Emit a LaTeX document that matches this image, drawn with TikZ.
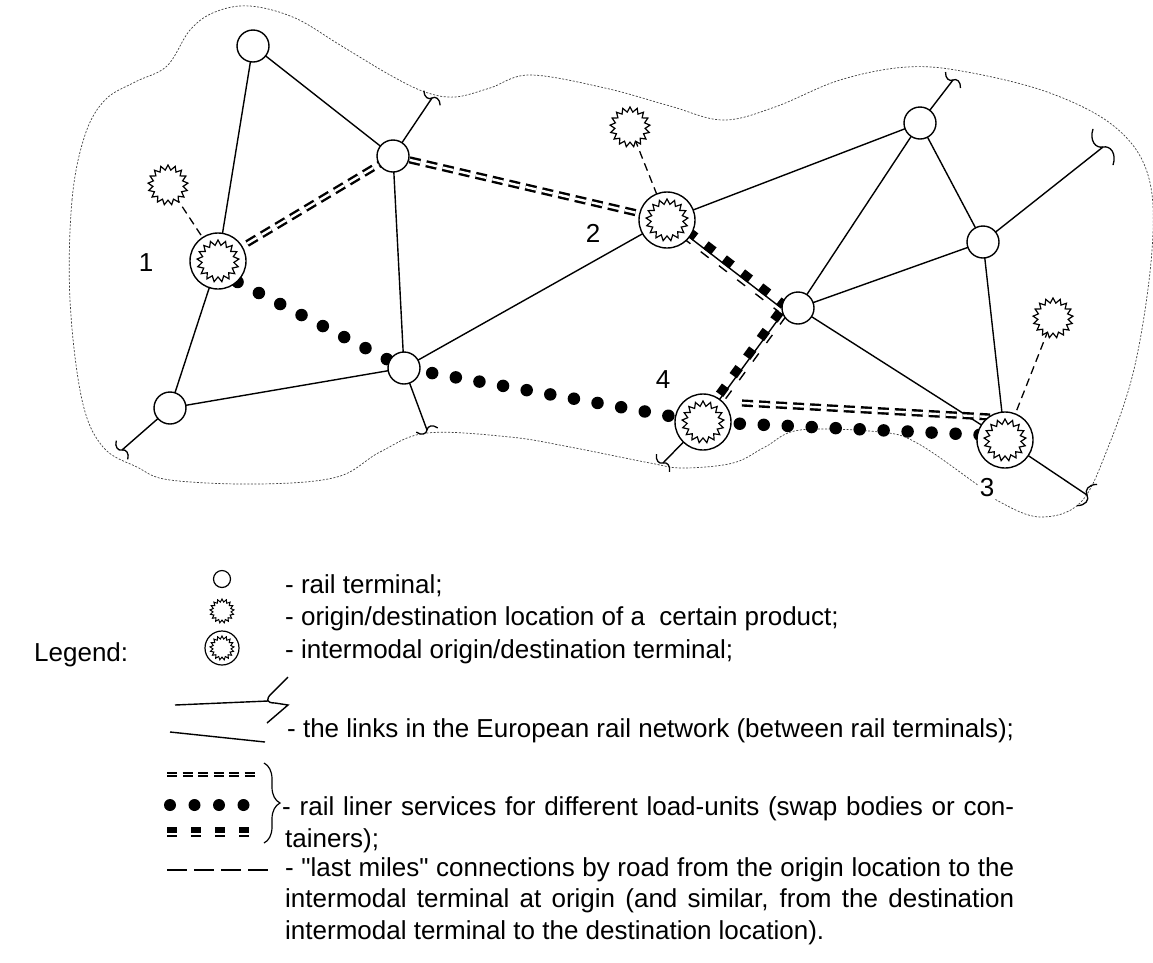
\documentclass[tikz,border=0pt]{standalone}
\usepackage{fontspec}
\setmainfont{Liberation Sans}
\newfontfamily\arialish{Liberation Sans}
\usetikzlibrary{shapes.geometric,calc,decorations.pathreplacing}
\pgfdeclarelayer{bg}
\pgfsetlayers{bg,main}
\begin{document}
\begin{tikzpicture}[x=1pt,y=-1pt,
  rt/.style={circle,draw,fill=white,line width=1.4pt,minimum size=32pt,inner sep=0pt},
  im/.style={circle,draw,fill=white,line width=1.4pt,minimum size=56pt,inner sep=0pt},
  st/.style={star,star points=17,star point ratio=1.32,draw,fill=white,line width=1.2pt,minimum size=40pt,inner sep=0pt},
  link/.style={line width=1.4pt},
  lastmile/.style={line width=1.3pt,dash pattern=on 8pt off 5pt},
  dbl/.style={line width=2.4pt,double,double distance=2.4pt,dash pattern=on 11pt off 6pt},
  bigdots/.style={line width=12.5pt,line cap=round,dash pattern=on 0pt off 24pt},
  heavy/.style={line width=9pt,dash pattern=on 10pt off 13pt},
  heavythin/.style={line width=1.4pt,dash pattern=on 10pt off 13pt},
  bnd/.style={line width=0.7pt,black!75,dash pattern=on 2pt off 1.6pt},
  txt/.style={anchor=base west,inner sep=0pt,font=\arialish\fontsize{26}{32}\selectfont},
  lbl/.style={inner sep=0pt,font=\arialish\fontsize{26}{32}\selectfont},
  brk/.pic={\draw[line width=1.3pt] (2,-12) .. controls (-4,-8) and (-4,-2) .. (0,0) .. controls (4,2) and (4,8) .. (-2,12);}
]
\useasboundingbox (0,0) rectangle (1153,962);

% ---------- map nodes ----------
\node[rt] (A) at (253,46) {};
\node[rt] (B) at (393,156) {};
\node[rt] (C) at (170,408) {};
\node[rt] (D) at (404,368) {};
\node[rt] (E) at (798,308) {};
\node[rt] (F) at (920,123) {};
\node[rt] (G) at (983,242) {};
\node[im] (N1) at (218,261) {};
\node[st,minimum size=42pt] (N1s) at (N1) {};
\node[im] (N2) at (667,220) {};
\node[st,minimum size=42pt] (N2s) at (N2) {};
\node[im] (N4) at (703,422) {};
\node[st,minimum size=42pt] (N4s) at (N4) {};
\node[im] (N3) at (1005,440) {};
\node[st,minimum size=42pt] (N3s) at (N3) {};
\node[st] (S1) at (168,185) {};
\node[st] (S2) at (630,127) {};
\node[st] (S3) at (1053,318) {};

\coordinate (T1) at (432,98);
\coordinate (T2) at (122,450);
\coordinate (T3) at (427,430);
\coordinate (T4) at (953,80);
\coordinate (T5) at (1103,147);
\coordinate (T6) at (1087,495);
\coordinate (T7) at (663,463);

\begin{pgfonlayer}{bg}
  % region boundary
  \draw[bnd] plot[smooth cycle,tension=0.6] coordinates {
    (70,300) (72,200) (85,135) (105,100) (135,82) (167,66) (190,30) (215,12) (250,6)
    (295,18) (340,45) (390,75) (425,92) (455,97) (490,88) (530,75) (605,88)
    (670,106) (723,120) (775,107) (840,80) (907,67) (967,72) (1050,93)
    (1115,127) (1148,175) (1152,250) (1135,365) (1107,450) (1080,503)
    (1040,517) (1000,502) (975,483) (917,443) (880,432) (800,430) (765,447)
    (733,463) (683,468) (650,463) (570,447) (510,437) (427,433) (380,452)
    (337,477) (260,484) (170,480) (137,467) (103,447) (82,400)};
  % rail links
  \draw[link] (A.center) -- (N1.center);
  \draw[link] (A.center) -- (B.center);
  \draw[link] (B.center) -- (D.center);
  \draw[link] (N1.center) -- (C.center);
  \draw[link] (C.center) -- (D.center);
  \draw[link] (D.center) -- (N2.center);
  \draw[link] (N2.center) -- (F.center);
  \draw[link] (E.center) -- (F.center);
  \draw[link] (E.center) -- (G.center);
  \draw[link] (E.center) -- (N3.center);
  \draw[link] (F.center) -- (G.center);
  \draw[link] (G.center) -- (N3.center);
  \draw[link] (B.center) -- (T1);
  \draw[link] (C.center) -- (T2);
  \draw[link] (D.center) -- (T3);
  \draw[link] (F.center) -- (T4);
  \draw[link] (G.center) -- (T5);
  \draw[link] (N3.center) -- (T6);
  \draw[link] (N4.center) -- (T7);
  % heavy liner service with its rail link
  \draw[link] (N2.center) -- (E.180);
  \draw[heavy] ($(N2.center)!4pt!90:(E.180)$) -- ($(E.180)!4pt!-90:(N2.center)$);
  \draw[heavythin] ($(N2.center)!4.5pt!-90:(E.180)$) -- ($(E.180)!4.5pt!90:(N2.center)$);
  \draw[link] (E.200) -- (N4.center);
  \draw[heavy] ($(E.200)!3pt!-90:(N4.center)$) -- ($(N4.center)!3pt!90:(E.200)$);
  \draw[heavythin] ($(E.200)!4.5pt!90:(N4.center)$) -- ($(N4.center)!4.5pt!-90:(E.200)$);
  % double dashed liner service
  \draw[dbl] (N1.center) -- (B.center);
  \draw[dbl] (B.center) -- (N2.center);
  \draw[dbl] ($(N4.center)+(39,-19)$) -- ($(N3.center)+(-15,-23)$);
  % dotted liner service
  \draw[bigdots] (N1.-47) -- (D.center) -- (N4.center) -- ($(N3.center)+(0,-4)$);
  % last miles
  \draw[lastmile] (S1.center) -- (N1.center);
  \draw[lastmile] (S2.center) -- (N2.center);
  \draw[lastmile] (S3.center) -- (N3.center);
\end{pgfonlayer}

% break marks at the ends of the links
\pic[rotate=57.7,scale=0.9] at (T1) {brk};
\pic[rotate=-138.8,scale=0.9] at (T2) {brk};
\pic[rotate=-69.6,scale=0.9] at (T3) {brk};
\pic[rotate=52.5,scale=0.9] at (T4) {brk};
\pic[rotate=38.4,scale=1.7] at (T5) {brk};
\pic[rotate=-33.8,scale=1.2] at (T6) {brk};
\pic[rotate=-134.3,scale=0.9] at (T7) {brk};

% labels
\node[lbl] (L1) at (146,263) {1};
\node[lbl] (L2) at (593,233) {2};
\node[lbl] (L4) at (663,380) {4};
\node[lbl,fill=white,inner sep=2pt] (L3) at (987,488) {3};

% ---------- legend ----------
\node[txt] (lg) at (34,661) {Legend:};
\node[rt,minimum size=17pt,line width=1.2pt] (i1) at (222,579) {};
\node[st,minimum size=24pt,line width=1pt] (i2) at (222,611) {};
\node[im,minimum size=34pt,line width=1.2pt] (i3) at (222,648) {};
\node[st,minimum size=24pt,line width=1pt] (i3s) at (i3) {};

\node[txt] (t1) at (285,593) {- rail terminal;};
\node[txt] (t2) at (285,625) {- origin/destination location of a\ \ certain product;};
\node[txt] (t3) at (285,658) {- intermodal origin/destination terminal;};

\coordinate (k1a) at (175,705);
\coordinate (k1b) at (268,701);
\draw[link] (k1a) -- (k1b);
\draw[link] (288,677) -- (271,694) .. controls (266,699) and (266,703) .. (275,703) -- (288,705) -- (267,723);
\coordinate (k2a) at (170,732);
\coordinate (k2b) at (265,742);
\draw[link] (k2a) -- (k2b);
\node[txt] (t4) at (287,737) {- the links in the European rail network (between rail terminals);};

\coordinate (m1a) at (167,774.5);
\coordinate (m1b) at (258,774.5);
\draw[line width=1.9pt,double,double distance=1.6pt,dash pattern=on 10pt off 5.5pt] (m1a) -- (m1b);
\coordinate (m2a) at (170,805);
\coordinate (m2b) at (244,805);
\draw[bigdots,line width=12pt,dash pattern=on 0pt off 24.5pt] (m2a) -- (m2b);
\coordinate (m3a) at (167,829.5);
\coordinate (m3b) at (252,829.5);
\draw[line width=6pt,dash pattern=on 10pt off 14pt] (m3a) -- (m3b);
\draw[line width=2pt,dash pattern=on 10pt off 14pt] ($(m3a)+(0,6.5)$) -- ($(m3b)+(0,6.5)$);
\coordinate (br1) at (264,763);
\coordinate (br2) at (264,843);
\draw[line width=1.2pt,decorate,decoration={brace,amplitude=16pt}] (br1) -- (br2);

\node[txt] (t5) at (282,815) {\makebox[732pt][s]{- rail liner services for different load-units (swap bodies or con-}};
\node[txt] (t6) at (285,847) {tainers);};

\coordinate (m4a) at (167,870);
\coordinate (m4b) at (268,870);
\draw[line width=2pt,dash pattern=on 20pt off 7pt] (m4a) -- (m4b);
\node[txt] (t7) at (285,876) {\makebox[729pt][s]{- "last miles" connections by road from the origin location to the}};
\node[txt] (t8) at (285,907) {\makebox[729pt][s]{intermodal terminal at origin (and similar, from the destination}};
\node[txt] (t9) at (285,939) {intermodal terminal to the destination location).};
\end{tikzpicture}
\end{document}
